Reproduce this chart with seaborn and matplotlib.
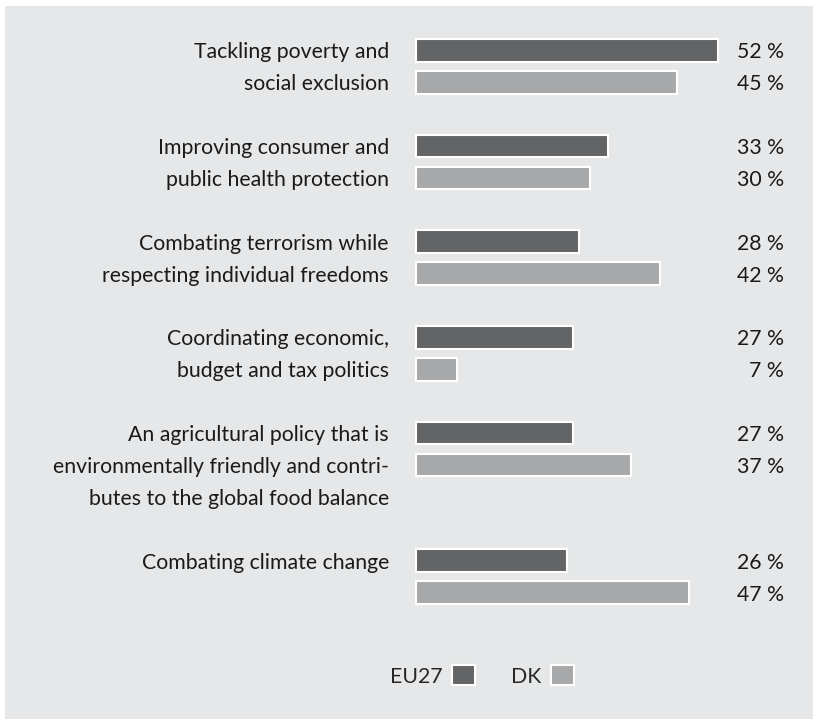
import matplotlib
matplotlib.use("Agg")
import matplotlib.pyplot as plt
import pandas as pd
import seaborn as sns
from matplotlib.patches import Patch, Rectangle

# Survey data: share of respondents naming each priority
topics = [
    "Tackling poverty and\nsocial exclusion",
    "Improving consumer and\npublic health protection",
    "Combating terrorism while\nrespecting individual freedoms",
    "Coordinating economic,\nbudget and tax politics",
    "An agricultural policy that is\nenvironmentally friendly and contri-\nbutes to the global food balance",
    "Combating climate change",
]
series = ["EU27", "DK"]
eu27 = [52, 33, 28, 27, 27, 26]
dk = [45, 30, 42, 7, 37, 47]

BG = "#e6e7e8"
COLORS = {"EU27": "#636466", "DK": "#a7a8aa"}

sns.set_theme(style="white")
plt.rcParams["font.family"] = ["Lato", "DejaVu Sans"]
FS = 15.3

# Each topic takes as many text lines as its label (at least two, one per bar)
# plus one blank line before the next topic.
rows = []
starts = []
line = 0
for topic, e, d in zip(topics, eu27, dk):
    starts.append(line)
    rows.append({"topic": topic, "series": "EU27", "value": e, "pos": line})
    rows.append({"topic": topic, "series": "DK", "value": d, "pos": line + 1})
    line += max(2, topic.count("\n") + 1) + 1
df = pd.DataFrame(rows)

fig = plt.figure(figsize=(8.13, 7.19), dpi=100, facecolor="white")
# grey panel running to the right and bottom edges, behind the axes
fig.patches.append(Rectangle((5 / 813, -0.05), 1.1, 713 / 719 + 0.05,
                             transform=fig.transFigure, facecolor=BG,
                             edgecolor="none", zorder=-10))
ax = fig.add_axes([5 / 813, 0, 808 / 813, 713 / 719])
ax.set_zorder(1)
ax.patch.set_alpha(0)

sns.barplot(
    data=df, x="value", y="pos", hue="series", hue_order=series,
    palette=COLORS, orient="y", native_scale=True, dodge=False,
    width=0.71, errorbar=None, edgecolor="white", linewidth=1.5,
    legend=False, ax=ax,
)

ax.set_xlim(-70.74, 68.33)
ax.set_ylim(20.96, -1.389)
for s in ax.spines.values():
    s.set_visible(False)
ax.set_xticks([])
ax.set_yticks([])
ax.set_xlabel("")
ax.set_ylabel("")

# Topic labels, one text line per row, right-aligned left of the bars
for topic, start in zip(topics, starts):
    for i, part in enumerate(topic.split("\n")):
        ax.text(-4.65, start + i, part, ha="right", va="center_baseline",
                fontsize=FS, color="#1a1a1a")

# Value labels at the right edge
for _, r in df.iterrows():
    ax.text(63.3, r["pos"], f"{r['value']} %", ha="right", va="center_baseline",
            fontsize=FS, color="#1a1a1a")

handles = [Patch(facecolor=COLORS[s], edgecolor="white", linewidth=1.5, label=s)
           for s in series]
fig.legend(handles=handles, loc="center", bbox_to_anchor=(482 / 813, 1 - 676 / 719),
           ncol=2, markerfirst=False, frameon=False, fontsize=FS,
           handlelength=1.08, handleheight=1.08, handletextpad=0.45,
           columnspacing=1.7, borderpad=0)

fig.savefig("out.png", dpi=100, facecolor="white")
